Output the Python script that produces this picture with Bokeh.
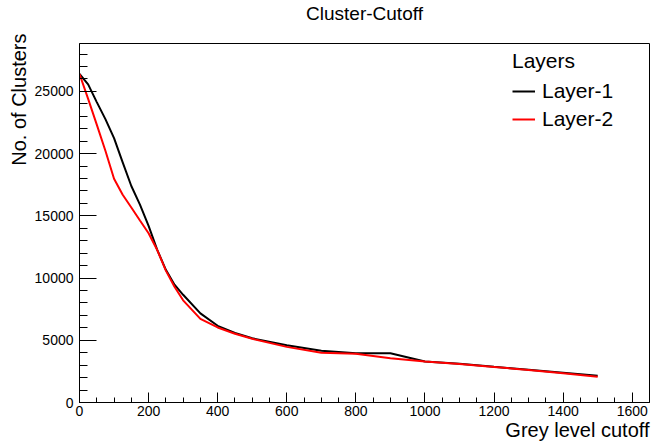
from bokeh.plotting import figure
from bokeh.models import FixedTicker, Legend, LegendItem, Range1d, Title
from bokeh.embed import file_html
from bokeh.resources import INLINE

# ---- data ----
cutoff = [0, 25, 50, 75, 100, 125, 150, 175, 200, 225, 250, 275, 300,
          350, 400, 450, 500, 600, 700, 800, 900, 1000, 1100, 1200, 1300, 1400, 1500]
layer1 = [26400, 25570, 24140, 22770, 21240, 19300, 17400, 15900, 14200, 12270, 10660, 9465, 8656,
          7166, 6163, 5590, 5160, 4600, 4160, 3960, 3960, 3300, 3120, 2870, 2630, 2390, 2150]
layer2 = [26400, 24400, 22330, 20230, 17985, 16700, 15670, 14630, 13600, 12250, 10600, 9300, 8210,
          6720, 6030, 5520, 5120, 4470, 3990, 3920, 3560, 3300, 3100, 2860, 2610, 2360, 2070]
x_ticks = [0, 200, 400, 600, 800, 1000, 1200, 1400, 1600]
x_minor = list(range(0, 1651, 50))
y_ticks = [0, 5000, 10000, 15000, 20000, 25000]
y_minor = list(range(0, 28001, 1000))
series_names = ["Layer-1", "Layer-2"]
legend_title = "Layers"
title_text = "Cluster-Cutoff"
x_title = "Grey level cutoff"
y_title = "No. of Clusters"

FONT = "Liberation Sans"

p = figure(width=651, height=448, output_backend="svg", toolbar_location=None,
           x_range=Range1d(0, 1650), y_range=Range1d(0, 28850),
           min_border_left=79, min_border_right=2, min_border_top=43, min_border_bottom=46,
           background_fill_color="white", border_fill_color="white")

p.title.text = title_text
p.title.align = "center"
p.title.text_font = FONT
p.title.text_font_size = "19px"
p.title.text_font_style = "normal"
p.title.text_color = "black"
p.title.vertical_align = "top"
p.title.standoff = 0

# blank spacer between the title and the frame
p.add_layout(Title(text=" ", text_font_size="1px", standoff=15), "above")

p.grid.visible = False
p.outline_line_color = "black"
p.outline_line_width = 1
p.outline_line_alpha = 1

p.xaxis.ticker = FixedTicker(ticks=x_ticks, minor_ticks=x_minor)
p.yaxis.ticker = FixedTicker(ticks=y_ticks, minor_ticks=y_minor)
for ax in (p.xaxis, p.yaxis):
    ax.axis_line_color = "black"
    ax.major_tick_line_color = "black"
    ax.minor_tick_line_color = "black"
    ax.major_tick_out = 0
    ax.minor_tick_out = 0
    ax.major_label_text_font = FONT
    ax.major_label_text_font_size = "14px"
    ax.major_label_text_color = "black"
p.xaxis.major_tick_in = 10
p.xaxis.minor_tick_in = 5
p.yaxis.major_tick_in = 17
p.yaxis.minor_tick_in = 8
p.xaxis.major_label_standoff = 3
p.yaxis.major_label_standoff = 6

# axis titles, aligned at the axis ends
p.add_layout(Title(text=x_title, align="right", vertical_align="top", standoff=0,
                   text_font=FONT, text_font_size="20px", text_font_style="normal",
                   text_color="black"), "below")
p.add_layout(Title(text=y_title, align="right", standoff=4, offset=-10,
                   text_font=FONT, text_font_size="20px", text_font_style="normal",
                   text_color="black"), "left")

r1 = p.line(cutoff, layer1, line_color="black", line_width=2)
r2 = p.line(cutoff, layer2, line_color="red", line_width=2)

legend = Legend(items=[LegendItem(label=series_names[0], renderers=[r1]),
                       LegendItem(label=series_names[1], renderers=[r2])],
                title=legend_title, location=(433, 271),
                border_line_color=None, background_fill_alpha=0,
                label_text_font=FONT, label_text_font_size="21px", label_text_color="black",
                title_text_font=FONT, title_text_font_size="21px", title_text_color="black",
                title_text_font_style="normal",
                glyph_width=23, glyph_height=20, label_standoff=7,
                spacing=4, padding=0, margin=0, title_standoff=6)
p.add_layout(legend)

open("out.html", "w").write(file_html(p, INLINE))
